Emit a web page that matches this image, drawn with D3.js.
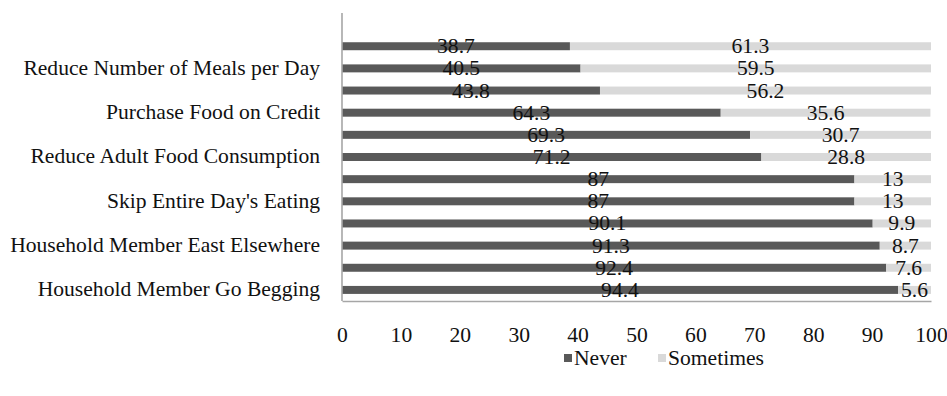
<!DOCTYPE html>
<html>
<head>
<meta charset="utf-8">
<script src="https://cdn.jsdelivr.net/npm/d3@7/dist/d3.min.js"></script>
<style>
  html, body { margin: 0; padding: 0; background: #fff; }
  svg { display: block; }
  text { font-family: "Liberation Serif", "Times New Roman", serif; fill: #111; }
</style>
</head>
<body>
<svg id="chart" width="947" height="396"></svg>
<script>
// Household food coping strategies: share of households (%) by frequency
const categories = [
  "Rely on Less Preferred Foods",
  "Reduce Number of Meals per Day",
  "Limit Portion Size at Mealtimes",
  "Purchase Food on Credit",
  "Borrow Food from Relatives",
  "Reduce Adult Food Consumption",
  "Consume Seed Stock",
  "Skip Entire Day's Eating",
  "Gather Wild Food",
  "Household Member East Elsewhere",
  "Harvest Immature Crops",
  "Household Member Go Begging"
];
const never     = [38.7, 40.5, 43.8, 64.3, 69.3, 71.2, 87, 87, 90.1, 91.3, 92.4, 94.4];
const sometimes = [61.3, 59.5, 56.2, 35.6, 30.7, 28.8, 13, 13, 9.9, 8.7, 7.6, 5.6];
const seriesNames = ["Never", "Sometimes"];
const seriesColors = ["#595959", "#d9d9d9"];
const xTicks = [0, 10, 20, 30, 40, 50, 60, 70, 80, 90, 100];
// only every second category name is printed on the axis
const shownLabels = categories.filter((d, i) => i % 2 === 1);

const svg = d3.select("#chart");
const plot = { left: 342, right: 931, top: 13, bottom: 301 };
const fontSize = 20;
const stretch = 1.08;               // slightly widened serif lettering
const widen = `scale(${stretch},1)`;

// one empty slot sits above the first bar
const slot = (plot.bottom - plot.top) / (categories.length + 1);

const x = d3.scaleLinear().domain([0, 100]).range([plot.left, plot.right]);
const y = d3.scaleBand()
  .domain(categories)
  .range([plot.top + slot, plot.bottom])
  .paddingInner(0.64)
  .paddingOuter(0.32);

const rows = categories.map((c, i) => ({ category: c, Never: never[i], Sometimes: sometimes[i] }));
const stacked = d3.stack().keys(seriesNames)(rows);
const color = d3.scaleOrdinal().domain(seriesNames).range(seriesColors);

// bars
const layers = svg.append("g").selectAll("g")
  .data(stacked)
  .join("g")
  .attr("fill", d => color(d.key));

layers.selectAll("rect")
  .data(d => d)
  .join("rect")
  .attr("x", d => x(d[0]))
  .attr("y", d => y(d.data.category))
  .attr("width", d => x(d[1]) - x(d[0]))
  .attr("height", y.bandwidth());

// value labels centred on each segment
const labelLayers = svg.append("g").selectAll("g")
  .data(stacked)
  .join("g");

labelLayers.selectAll("g")
  .data(d => d.map(s => ({ s, key: d.key })))
  .join("g")
  .attr("transform", d =>
    `translate(${(x(d.s[0]) + x(d.s[1])) / 2},${y(d.s.data.category) + y.bandwidth() / 2})`)
  .append("text")
  .attr("transform", widen)
  .attr("dy", "0.35em")
  .attr("text-anchor", "middle")
  .style("font-size", fontSize + "px")
  .text(d => d.s.data[d.key]);

// left axis
const yAxis = d3.axisLeft(y)
  .tickSize(0)
  .tickSizeOuter(0)
  .tickPadding(22 / stretch)
  .tickFormat(d => shownLabels.includes(d) ? d : "");

const gy = svg.append("g")
  .attr("transform", `translate(${plot.left},0)`)
  .call(yAxis);
gy.select(".domain").remove();
gy.selectAll("text")
  .attr("transform", widen)
  .attr("fill", "#111")
  .style("font-size", fontSize + "px");
svg.append("line")
  .attr("x1", plot.left).attr("x2", plot.left)
  .attr("y1", plot.top).attr("y2", plot.bottom)
  .attr("stroke", "#a6a6a6").attr("stroke-width", 1.6);

// bottom axis
const xAxis = d3.axisBottom(x)
  .tickValues(xTicks)
  .tickSize(0)
  .tickSizeOuter(0)
  .tickPadding(27);

const gx = svg.append("g")
  .attr("transform", `translate(0,${plot.bottom})`)
  .call(xAxis);
gx.select(".domain").attr("stroke", "#a6a6a6").attr("stroke-width", 1.6);
gx.selectAll("text")
  .attr("transform", widen)
  .attr("fill", "#111")
  .style("font-size", fontSize + "px");

// legend
const legend = svg.append("g").attr("transform", "translate(564,358)");
const legendOffsets = [0, 94];
const items = legend.selectAll("g")
  .data(seriesNames)
  .join("g")
  .attr("transform", (d, i) => `translate(${legendOffsets[i]},0)`);
items.append("rect")
  .attr("x", 0).attr("y", -4)
  .attr("width", 8).attr("height", 8)
  .attr("fill", d => color(d));
items.append("text")
  .attr("x", 10 / stretch).attr("dy", "0.35em")
  .attr("transform", widen)
  .style("font-size", fontSize + "px")
  .text(d => d);
</script>
</body>
</html>
